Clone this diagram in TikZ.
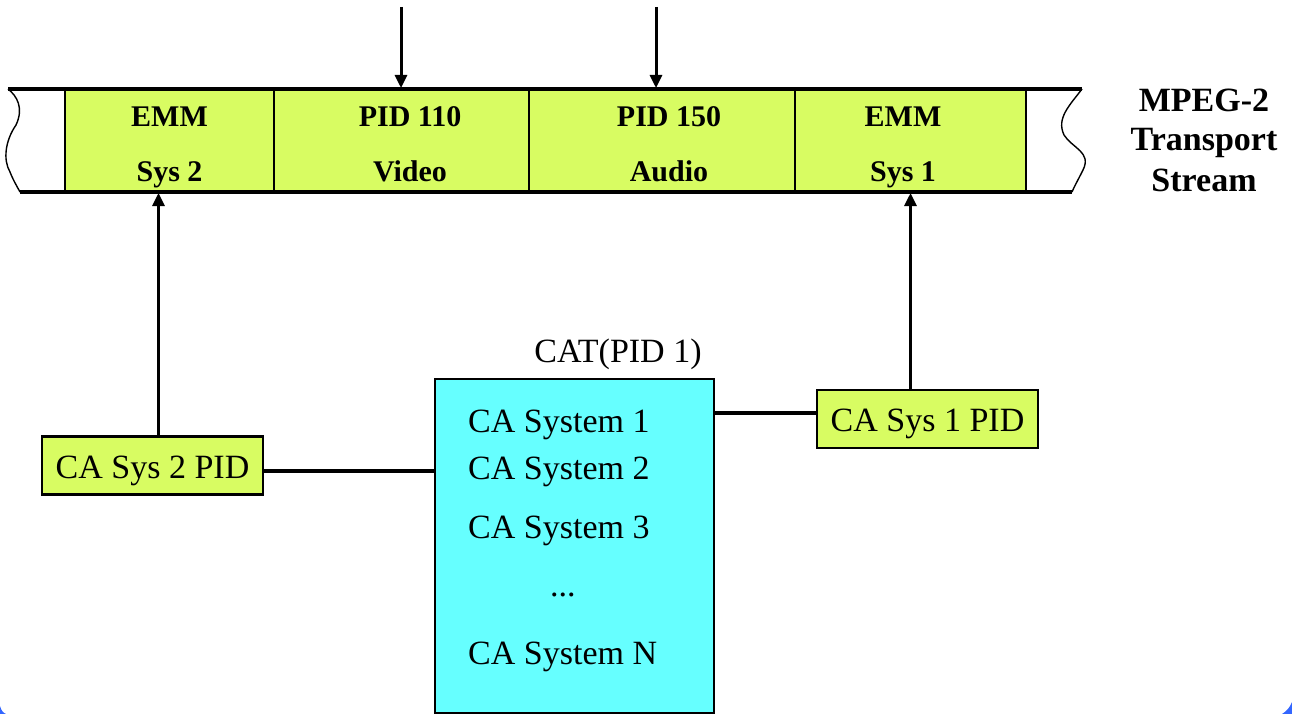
\documentclass[tikz,border=0pt]{standalone}
\usepackage{fontspec}
\setmainfont{Liberation Serif}
\usetikzlibrary{arrows.meta,calc}

\definecolor{cellgreen}{RGB}{216,252,98}
\definecolor{catcyan}{RGB}{102,255,255}
\definecolor{frameblue}{RGB}{51,102,255}

\tikzset{
  cell/.style={draw, line width=2pt, fill=cellgreen, minimum height=103pt, inner sep=0pt},
  celltxt/.style={anchor=base, inner sep=0pt, font=\fontsize{30}{36}\selectfont\bfseries},
  pidbox/.style={draw, line width=2.5pt, fill=cellgreen, minimum height=58pt, inner sep=0pt,
    text height=25pt, text depth=0pt, font=\fontsize{34}{40}\selectfont},
  catbox/.style={draw, line width=2.5pt, fill=catcyan, inner sep=0pt},
  cattxt/.style={anchor=base west, inner sep=0pt, font=\fontsize{34}{40}\selectfont},
  tslabel/.style={anchor=base, inner sep=0pt, font=\fontsize{34}{40}\selectfont\bfseries},
  conn/.style={line width=3.6pt},
  arr/.style={line width=3pt, -{Triangle[length=13pt,width=12pt]}},
  streamline/.style={line width=3.5pt},
  edge/.style={line width=1.4pt}
}

\begin{document}
\begin{tikzpicture}[x=1pt,y=-1pt]
  \useasboundingbox (0,0) rectangle (1292,714);
  \fill[white] (0,0) rectangle (1292,714);
  % rounded frame corners at the bottom
  \fill[frameblue] (0,706) .. controls (1,710) and (3,713) .. (6,714) -- (0,714) -- cycle;
  \fill[frameblue] (1282,714) .. controls (1287,711) and (1290,707) .. (1292,702) -- (1292,714) -- cycle;

  % transport stream packets
  \node[cell, minimum width=209pt] (emm2) at (169.5,140.5) {};
  \node[cell, minimum width=255pt] (vid)  at (401.5,140.5) {};
  \node[cell, minimum width=266pt] (aud)  at (662,140.5) {};
  \node[cell, minimum width=231pt] (emm1) at (910.5,140.5) {};

  % torn ends of the stream
  \draw[edge] (8,89) .. controls (17,96) and (24,108) .. (16,125)
              .. controls (5,141) and (3,160) .. (10,172)
              .. controls (14,182) and (18,188) .. (20,192);
  \draw[edge] (1082,89) .. controls (1070,105) and (1056,118) .. (1064,135)
              .. controls (1072,148) and (1092,152) .. (1083,170)
              .. controls (1078,180) and (1074,187) .. (1072,192);
  \draw[streamline] (8,89) -- (1082,89);
  \draw[streamline] (20,192) -- (1072,192);

  % packet labels
  \node[celltxt] (emm2a) at (169.5,127) {EMM};
  \node[celltxt] (emm2b) at (169.5,182) {Sys 2};
  \node[celltxt] (vida)  at (410,127) {PID 110};
  \node[celltxt] (vidb)  at (410,182) {Video};
  \node[celltxt] (auda)  at (669,127) {PID 150};
  \node[celltxt] (audb)  at (669,182) {Audio};
  \node[celltxt] (emm1a) at (903,127) {EMM};
  \node[celltxt] (emm1b) at (903,182) {Sys 1};

  \node[tslabel] (ts1) at (1204,112) {MPEG-2};
  \node[tslabel] (ts2) at (1204,151) {Transport};
  \node[tslabel] (ts3) at (1204,191) {Stream};

  % conditional access table
  \node[catbox, minimum width=279pt, minimum height=334pt] (cat) at (574.5,546) {};
  \node[anchor=base, inner sep=0pt, font=\fontsize{34}{40}\selectfont] (catlbl) at (618,362) {CAT(PID 1)};
  \node[cattxt] (cs1) at (468,432) {CA System 1};
  \node[cattxt] (cs2) at (468,479) {CA System 2};
  \node[cattxt] (cs3) at (468,538) {CA System 3};
  \node[cattxt] (csd) at (550,596) {...};
  \node[cattxt] (csn) at (468,664) {CA System N};

  % EMM PID boxes
  \node[pidbox, minimum width=221pt] (sys2pid) at (152.5,465.5) {CA Sys 2 PID};
  \node[pidbox, minimum width=221pt] (sys1pid) at (927.5,419) {CA Sys 1 PID};

  % links
  \coordinate (j2) at ([yshift=-5.5pt]sys2pid.east);
  \draw[conn] (j2) -- (j2 -| cat.west);
  \coordinate (j1) at ([yshift=6pt]sys1pid.west);
  \draw[conn] (j1 -| cat.east) -- (j1);

  \coordinate (u2) at ([xshift=6pt]sys2pid.north);
  \draw[arr] (u2) -- (u2 |- emm2.south);
  \draw[arr] (emm1.south |- sys1pid.north) -- (emm1.south);

  \coordinate (in1) at (401,7);
  \coordinate (in2) at (656,7);
  \draw[arr] (in1) -- (in1 |- vid.north);
  \draw[arr] (in2) -- (in2 |- aud.north);
\end{tikzpicture}
\end{document}
